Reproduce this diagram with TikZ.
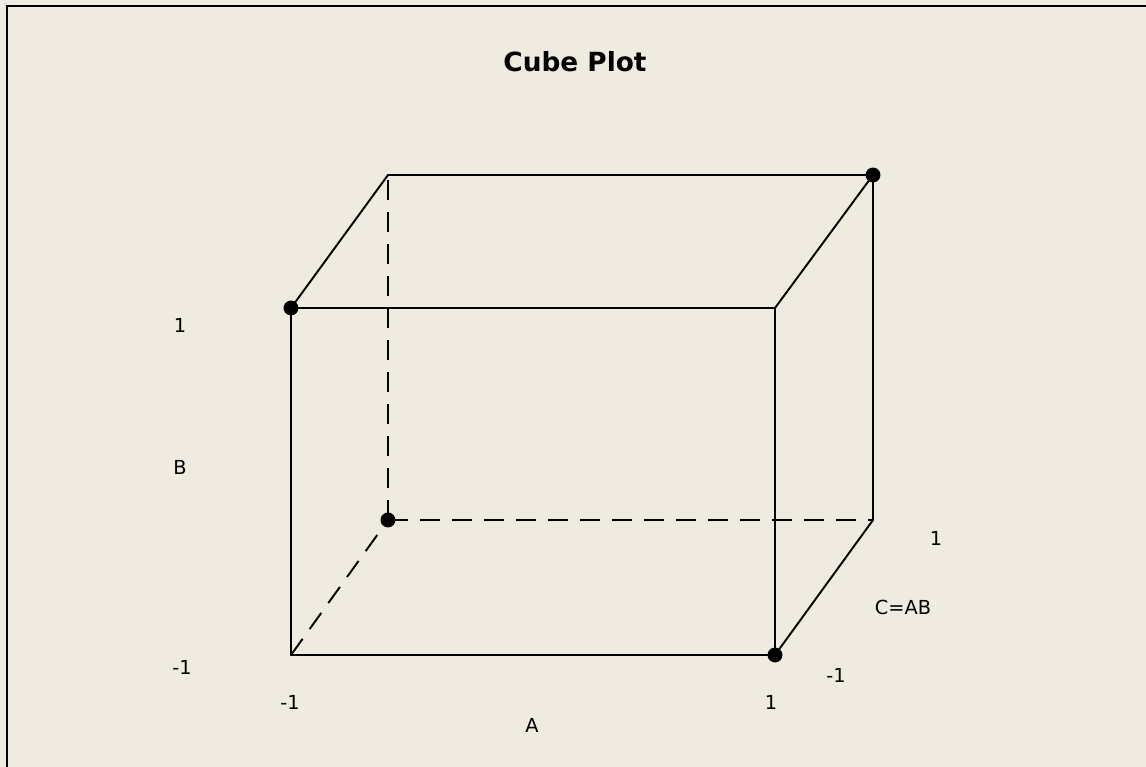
\documentclass[tikz,border=0pt]{standalone}
\usepackage{fontspec}
\setmainfont{DejaVu Sans}
\usepackage{xcolor}
\usepackage{tikz}
\usetikzlibrary{positioning,calc}
\definecolor{paper}{HTML}{EFEBE1}

\begin{document}
\begin{tikzpicture}[
    x=0.02cm, y=-0.02cm,
    edge/.style={line width=1.1pt},
    hidden/.style={line width=1.1pt, dash pattern=on 11.3pt off 6.9pt},
    corner/.style={circle, fill=black, inner sep=0pt, minimum size=8.5pt},
    lbl/.style={font=\fontsize{11}{13}\selectfont, inner sep=0pt}
]
% background and frame
\fill[paper] (0,0) rectangle (1146,767);
\useasboundingbox (0,0) rectangle (1146,767);
\draw[line width=1.3pt] (7,767) -- (7,6) -- (1146,6);

\node[font=\fontsize{15}{17}\selectfont\bfseries] (title) at (575,62) {Cube Plot};

% corners of the cube
\coordinate (fa) at (291,308);
\coordinate (fb) at (775,308);
\coordinate (fc) at (775,655);
\coordinate (fd) at (291,655);
\coordinate (ba) at (388,175);
\coordinate (bb) at (873,175);
\coordinate (bc) at (873,520);
\coordinate (bd) at (388,520);

\draw[hidden] (bd) -- (ba);
\draw[hidden] (bd) -- (bc);
\draw[hidden] (fd) -- (bd);
\draw[edge] (fa) -- (fb) -- (fc) -- (fd) -- cycle;
\draw[edge] (fa) -- (ba) -- (bb) -- (fb);
\draw[edge] (bb) -- (bc) -- (fc);

\node[corner] (p1) at (fa) {};
\node[corner] (p2) at (bb) {};
\node[corner] (p3) at (bd) {};
\node[corner] (p4) at (fc) {};

% axis labels
\node[lbl] (bhi) at (180,325) {1};
\node[lbl] (bname) at (180,467) {B};
\node[lbl] (blo) at (182,667) {-1};
\node[lbl] (alo) at (290,702) {-1};
\node[lbl] (ahi) at (771,702) {1};
\node[lbl] (aname) at (532,725) {A};
\node[lbl] (chi) at (936,538) {1};
\node[lbl] (cname) at (903,607) {C=AB};
\node[lbl] (clo) at (836,675) {-1};
\end{tikzpicture}
\end{document}
